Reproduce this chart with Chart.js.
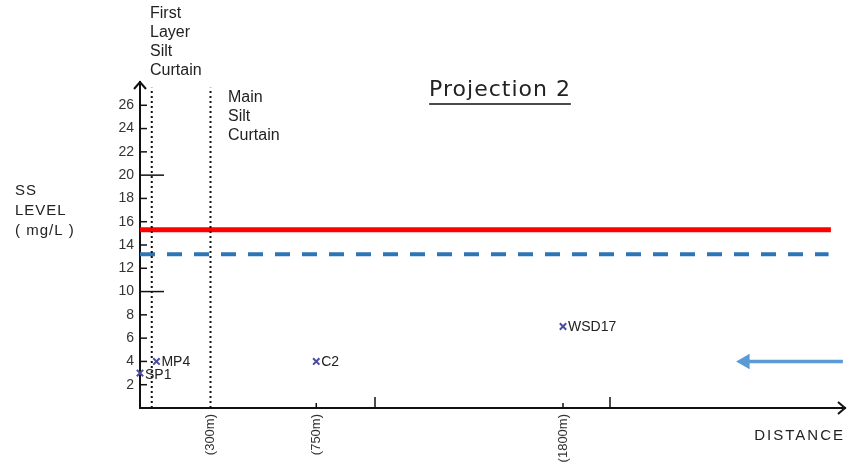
<!DOCTYPE html>
<html>
<head>
<meta charset="utf-8">
<script src="https://cdn.jsdelivr.net/npm/chart.js@4/dist/chart.umd.min.js"></script>
<style>
  html, body { margin: 0; padding: 0; background: #fff; }
  #wrap { width: 854px; height: 468px; position: relative; }
</style>
</head>
<body>
<div id="wrap"><canvas id="chart" width="854" height="468"></canvas></div>
<script>
// sampling stations (distance in m, SS level in mg/L)
const stationNames = ["SP1", "MP4", "C2", "WSD17"];
const stationDistance = [0, 70, 750, 1800];
const stationLevel = [3, 4, 4, 7];

// labelled distances under the axis and plain tick marks
const distanceLabels = [300, 750, 1800];
const plainDistanceTicks = [1000, 2000];
const levelTicks = [2, 4, 6, 8, 10, 12, 14, 16, 18, 20, 22, 24, 26];

// limit lines
const actionLevel = 15.3;
const triggerLevel = 13.2;
const limitLineEnd = [2940, 2930];

// silt curtains
const curtainDistance = [50, 300];
const curtainTop = 27.5;

// blue arrow (tail -> head)
const arrowDistance = [2575, 2991];
const arrowLevel = [4, 4];

const xMax = 3000;
const yMax = 28;

const labelFont = "Liberation Sans";

// extra drawing: texts, inner ticks, axis arrow heads
const decorPlugin = {
  id: "decor",
  afterDraw(chart) {
    const ctx = chart.ctx;
    const xs = chart.scales.x;
    const ys = chart.scales.y;
    const area = chart.chartArea;
    ctx.save();
    ctx.strokeStyle = "#111";
    ctx.fillStyle = "#222";
    ctx.lineWidth = 1.5;

    // inner ticks on y axis
    levelTicks.forEach((v) => {
      const py = ys.getPixelForValue(v);
      const len = v % 10 === 0 ? 24 : 7;
      ctx.beginPath();
      ctx.moveTo(area.left, py);
      ctx.lineTo(area.left + len, py);
      ctx.stroke();
    });

    // inner ticks on x axis
    plainDistanceTicks.forEach((v) => {
      const px = xs.getPixelForValue(v);
      ctx.beginPath();
      ctx.moveTo(px, area.bottom);
      ctx.lineTo(px, area.bottom - 11);
      ctx.stroke();
    });
    [750, 1800].forEach((v) => {
      const px = xs.getPixelForValue(v);
      ctx.beginPath();
      ctx.moveTo(px, area.bottom);
      ctx.lineTo(px, area.bottom - 5);
      ctx.stroke();
    });

    // axis arrow heads
    ctx.lineWidth = 2;
    ctx.beginPath();
    ctx.moveTo(area.left - 6, area.top + 7);
    ctx.lineTo(area.left, area.top);
    ctx.lineTo(area.left + 6, area.top + 7);
    ctx.stroke();
    ctx.beginPath();
    ctx.moveTo(area.right - 7, area.bottom - 6);
    ctx.lineTo(area.right, area.bottom);
    ctx.lineTo(area.right - 7, area.bottom + 6);
    ctx.stroke();

    // station names
    ctx.font = "14px " + labelFont;
    ctx.textBaseline = "middle";
    ctx.textAlign = "left";
    stationNames.forEach((name, i) => {
      const px = xs.getPixelForValue(stationDistance[i]);
      const py = ys.getPixelForValue(stationLevel[i]);
      ctx.fillText(name, px + 5, py + (i === 0 ? 2 : 1));
    });

    // curtain notes
    ctx.font = "16px " + labelFont;
    ["First", "Layer", "Silt", "Curtain"].forEach((t, i) => {
      ctx.fillText(t, 150, 14 + i * 19);
    });
    ["Main", "Silt", "Curtain"].forEach((t, i) => {
      ctx.fillText(t, 228, 98 + i * 19);
    });

    // y axis title
    ctx.font = "15px " + labelFont;
    ctx.letterSpacing = "1px";
    ctx.fillText("SS", 15, 191);
    ctx.fillText("LEVEL", 15, 211);
    ctx.fillText("( mg/L )", 15, 231);

    // x axis title
    ctx.letterSpacing = "2px";
    ctx.textAlign = "right";
    ctx.fillText("DISTANCE", 845, 436);

    // chart title, underlined
    ctx.letterSpacing = "1px";
    ctx.font = "22px DejaVu Sans";
    ctx.textAlign = "center";
    ctx.fillText("Projection 2", 500, 90);
    const w = ctx.measureText("Projection 2").width;
    ctx.lineWidth = 1.5;
    ctx.beginPath();
    ctx.moveTo(500 - w / 2, 104);
    ctx.lineTo(500 + w / 2, 104);
    ctx.stroke();

    ctx.restore();
  },
};

const curtainSets = curtainDistance.map((d) => ({
  type: "line",
  data: [
    { x: d, y: 0 },
    { x: d, y: curtainTop },
  ],
  borderColor: "#111",
  borderWidth: 2,
  borderDash: [2, 3],
  pointRadius: 0,
  clip: false,
}));

new Chart(document.getElementById("chart"), {
  type: "scatter",
  data: {
    datasets: [
      ...curtainSets,
      {
        type: "line",
        data: [
          { x: 0, y: actionLevel },
          { x: limitLineEnd[0], y: actionLevel },
        ],
        borderColor: "#ff0000",
        borderWidth: 5,
        pointRadius: 0,
        clip: false,
      },
      {
        type: "line",
        data: [
          { x: 0, y: triggerLevel },
          { x: limitLineEnd[1], y: triggerLevel },
        ],
        borderColor: "#2e75b6",
        borderWidth: 4,
        borderDash: [15, 12],
        pointRadius: 0,
        clip: false,
      },
      {
        type: "line",
        data: arrowDistance.map((d, i) => ({ x: d, y: arrowLevel[i] })),
        borderColor: "#5b9bd5",
        backgroundColor: "#5b9bd5",
        borderWidth: 3.5,
        pointStyle: "triangle",
        pointRotation: [-90, 0],
        pointRadius: [9, 0],
        pointBorderWidth: 0,
        clip: false,
      },
      {
        data: stationDistance.map((d, i) => ({ x: d, y: stationLevel[i] })),
        pointStyle: "crossRot",
        pointRadius: 4.5,
        pointBorderWidth: 2,
        borderColor: "#4b4ba0",
        clip: false,
      },
    ],
  },
  options: {
    responsive: false,
    animation: false,
    events: [],
    layout: { padding: { left: 100, top: 82, right: 9, bottom: 0 } },
    plugins: {
      legend: { display: false },
      tooltip: { enabled: false },
    },
    scales: {
      x: {
        type: "linear",
        min: 0,
        max: xMax,
        afterFit(scale) {
          scale.height = 60;
        },
        afterBuildTicks(scale) {
          scale.ticks = distanceLabels.map((v) => ({ value: v }));
        },
        grid: { display: false, drawTicks: false },
        border: { display: true, color: "#111", width: 2 },
        ticks: {
          autoSkip: false,
          minRotation: 90,
          maxRotation: 90,
          padding: 6,
          color: "#333",
          font: { family: labelFont, size: 13 },
          callback: (v) => "(" + v + "m)",
        },
      },
      y: {
        min: 0,
        max: yMax,
        afterFit(scale) {
          scale.width = 40;
        },
        grid: { display: false, drawTicks: false },
        border: { display: true, color: "#111", width: 2 },
        ticks: {
          stepSize: 2,
          padding: 6,
          color: "#333",
          font: { family: labelFont, size: 14 },
          callback: (v) => (v === 0 || v === yMax ? "" : v),
        },
      },
    },
  },
  plugins: [decorPlugin],
});
</script>
</body>
</html>
